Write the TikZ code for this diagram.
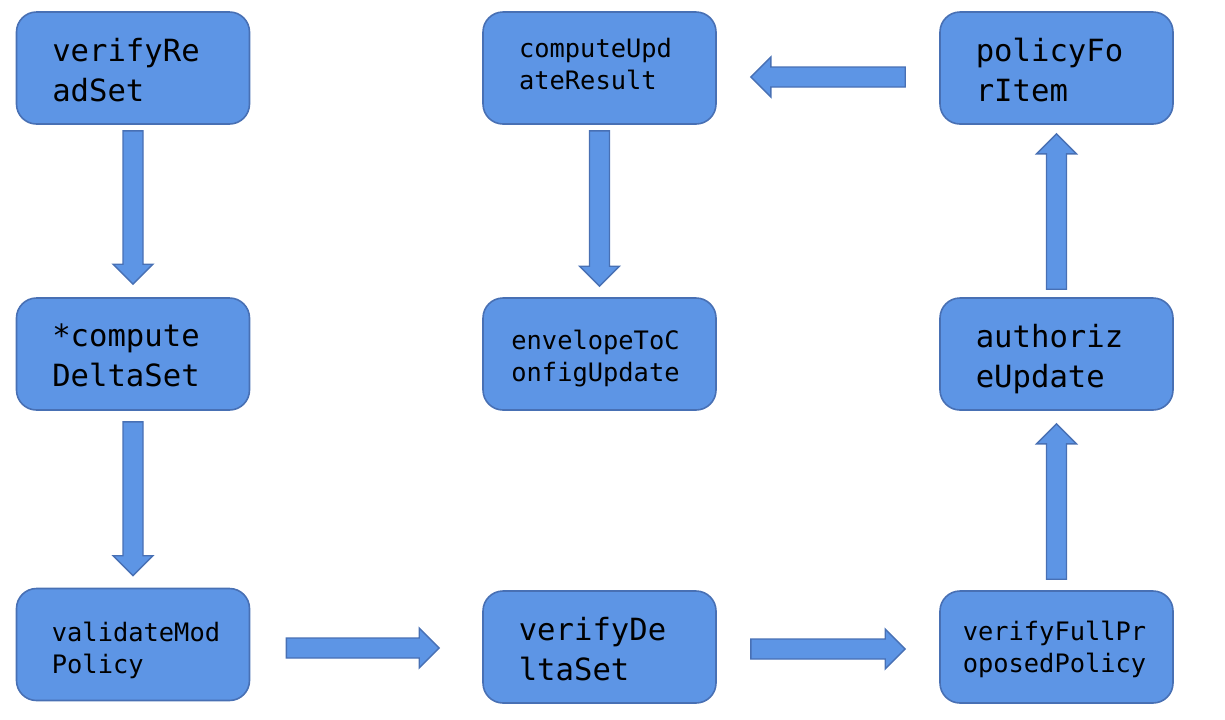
\documentclass[tikz,border=0pt]{standalone}
\usepackage{fontspec}
\setmonofont{DejaVu Sans Mono}
\usetikzlibrary{calc}
\definecolor{boxfill}{RGB}{93,149,229}
\definecolor{boxdraw}{RGB}{72,112,180}
\tikzset{
  box/.style={draw=boxdraw, fill=boxfill, line width=0.8pt, rounded corners=10pt,
    minimum width=116.5pt, minimum height=56pt, inner sep=0pt},
  big/.style={font=\ttfamily\fontsize{15.3pt}{20pt}\selectfont, align=left, inner sep=0pt},
  small/.style={font=\ttfamily\fontsize{12.7pt}{16pt}\selectfont, align=left, inner sep=0pt},
  barrow/.style={draw=boxdraw, fill=boxfill, line width=0.7pt, line join=miter}
}
\newcommand\blockarr[2]{%
  \path ($(#2)!10pt!(#1)$) coordinate (hb);
  \draw[barrow] ($(#1)!5pt!90:(#2)$) -- ($(hb)!5pt!-90:(#1)$) -- ($(hb)!10pt!-90:(#1)$) -- (#2)
    -- ($(hb)!10pt!90:(#1)$) -- ($(hb)!5pt!90:(#1)$) -- ($(#1)!5pt!-90:(#2)$) -- cycle;}
\begin{document}
\begin{tikzpicture}[x=0.5pt,y=-0.5pt]
\useasboundingbox (0,0) rectangle (1225,719);
% boxes
\node[box] (rs) at (133,68) {};
\node[box] (cd) at (133,354) {};
\node[box] (vm) at (133,644.5) {};
\node[box] (cu) at (599.5,68) {};
\node[box] (ec) at (599.5,354) {};
\node[box] (vd) at (599.5,647) {};
\node[box] (pf) at (1056.5,68) {};
\node[box] (au) at (1056.5,354) {};
\node[box] (vf) at (1056.5,647) {};
% labels
\node[big]   (trs) at ($(rs.center)+(-7,2)$) {verifyRe\\adSet};
\node[big]   (tcd) at ($(cd.center)+(-7,1)$) {*compute\\DeltaSet};
\node[small] (tvm) at ($(vm.center)+(3,6)$) {validateMod\\Policy};
\node[small] (tcu) at ($(cu.center)+(-4,-4)$) {computeUpd\\ateResult};
\node[small] (tec) at ($(ec.center)+(-4,4)$) {envelopeToC\\onfigUpdate};
\node[big]   (tvd) at ($(vd.center)+(-7,2)$) {verifyDe\\ltaSet};
\node[big]   (tpf) at ($(pf.center)+(-7,2)$) {policyFo\\rItem};
\node[big]   (tau) at ($(au.center)+(-7,5)$) {authoriz\\eUpdate};
\node[small] (tvf) at ($(vf.center)+(-2,2.5)$) {verifyFullPr\\oposedPolicy};
% arrow end points
\coordinate (a1s) at ($(rs.south)+(0,6)$);
\coordinate (a1e) at ($(cd.north)+(0,-13)$);
\coordinate (a2s) at ($(cd.south)+(0,11)$);
\coordinate (a2e) at ($(vm.north)+(0,-12)$);
\coordinate (a3s) at ($(vm.east)+(36,3.5)$);
\coordinate (a3e) at ($(vd.west)+(-43,1)$);
\coordinate (a4s) at ($(vd.east)+(34,2)$);
\coordinate (a4e) at ($(vf.west)+(-34,2)$);
\coordinate (a5s) at ($(vf.north)+(0,-11)$);
\coordinate (a5e) at ($(au.south)+(0,13)$);
\coordinate (a6s) at ($(au.north)+(0,-8)$);
\coordinate (a6e) at ($(pf.south)+(0,9)$);
\coordinate (a7s) at ($(pf.west)+(-34,9)$);
\coordinate (a7e) at ($(cu.east)+(34,9)$);
\coordinate (a8s) at ($(cu.south)+(0,6)$);
\coordinate (a8e) at ($(ec.north)+(0,-11)$);
\blockarr{a1s}{a1e}
\blockarr{a2s}{a2e}
\blockarr{a3s}{a3e}
\blockarr{a4s}{a4e}
\blockarr{a5s}{a5e}
\blockarr{a6s}{a6e}
\blockarr{a7s}{a7e}
\blockarr{a8s}{a8e}
\end{tikzpicture}
\end{document}
